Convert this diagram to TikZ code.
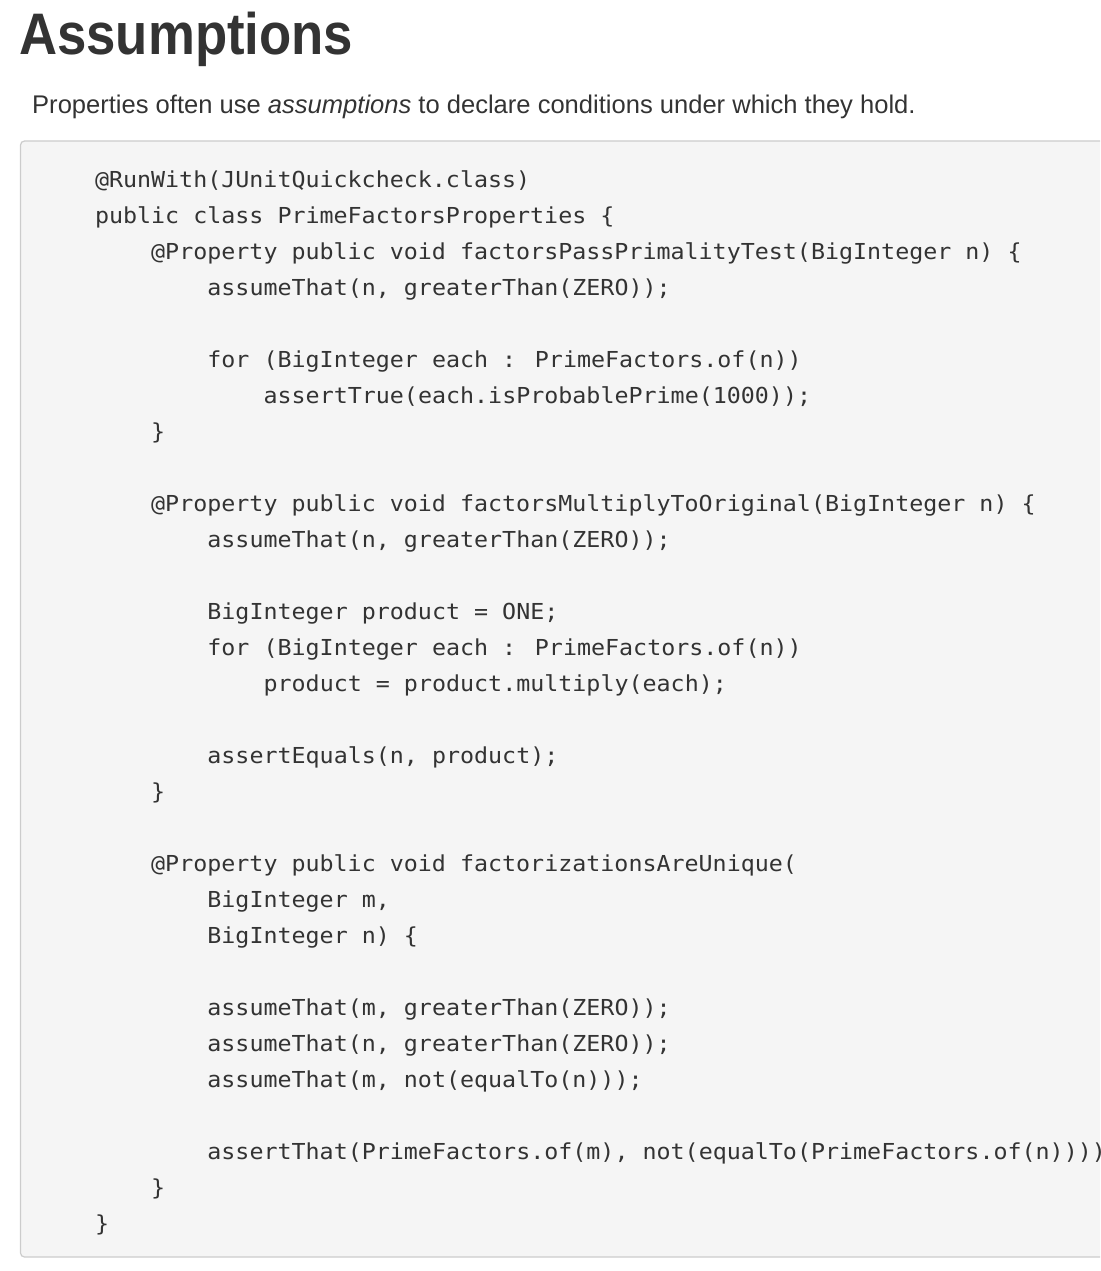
\documentclass[tikz,border=0pt]{standalone}
\usepackage{fontspec}
\setmainfont{Liberation Sans}
\newfontfamily\headfont{Liberation Sans}[FakeStretch=0.9]
\newfontfamily\codefont{DejaVu Sans Mono}[FakeStretch=1.06]
\definecolor{txt}{HTML}{333333}
\definecolor{codebg}{HTML}{F5F5F5}
\definecolor{codeborder}{HTML}{CCCCCC}
\tikzset{
  codeline/.style={anchor=base west, inner sep=0pt, outer sep=0pt, text=txt,
    font=\codefont\fontsize{22}{26}\selectfont},
  heading/.style={anchor=base west, inner sep=0pt, text=txt,
    font=\headfont\bfseries\fontsize{58.6}{64}\selectfont},
  para/.style={anchor=base west, inner sep=0pt, text=txt,
    font=\fontsize{25.55}{30}\selectfont},
  codebox/.style={draw=codeborder, fill=codebg, line width=1.2pt, rounded corners=4pt}
}
\newcommand{\cw}{14.05}
\begin{document}
\begin{tikzpicture}[x=1pt,y=-1pt]
\useasboundingbox (0,0) rectangle (1100,1271);
\clip (0,0) rectangle (1100,1271);
\node[heading] (title) at (19,55) {Assumptions};
\node[para] (intro) at (32,113.3) {Properties often use \textit{assumptions} to declare conditions under which they hold.};
\path[codebox] (20.5,141) rectangle (1115,1257);
\foreach \k/\ind/\txt [count=\i] in {
  0/0/{@RunWith(JUnitQuickcheck.class)},
  1/0/{public class PrimeFactorsProperties \{},
  2/4/{@Property public void factorsPassPrimalityTest(BigInteger n) \{},
  3/8/{assumeThat(n, greaterThan(ZERO));},
  5/8/{for (BigInteger each : PrimeFactors.of(n))},
  6/12/{assertTrue(each.isProbablePrime(1000));},
  7/4/{\}},
  9/4/{@Property public void factorsMultiplyToOriginal(BigInteger n) \{},
  10/8/{assumeThat(n, greaterThan(ZERO));},
  12/8/{BigInteger product = ONE;},
  13/8/{for (BigInteger each : PrimeFactors.of(n))},
  14/12/{product = product.multiply(each);},
  16/8/{assertEquals(n, product);},
  17/4/{\}},
  19/4/{@Property public void factorizationsAreUnique(},
  20/8/{BigInteger m,},
  21/8/{BigInteger n) \{},
  23/8/{assumeThat(m, greaterThan(ZERO));},
  24/8/{assumeThat(n, greaterThan(ZERO));},
  25/8/{assumeThat(m, not(equalTo(n)));},
  27/8/{assertThat(PrimeFactors.of(m), not(equalTo(PrimeFactors.of(n))));},
  28/4/{\}},
  29/0/{\}}
}{
  \node[codeline] (line\i) at ({95+\ind*\cw},{187+36*\k}) {\txt};
}
\end{tikzpicture}
\end{document}
